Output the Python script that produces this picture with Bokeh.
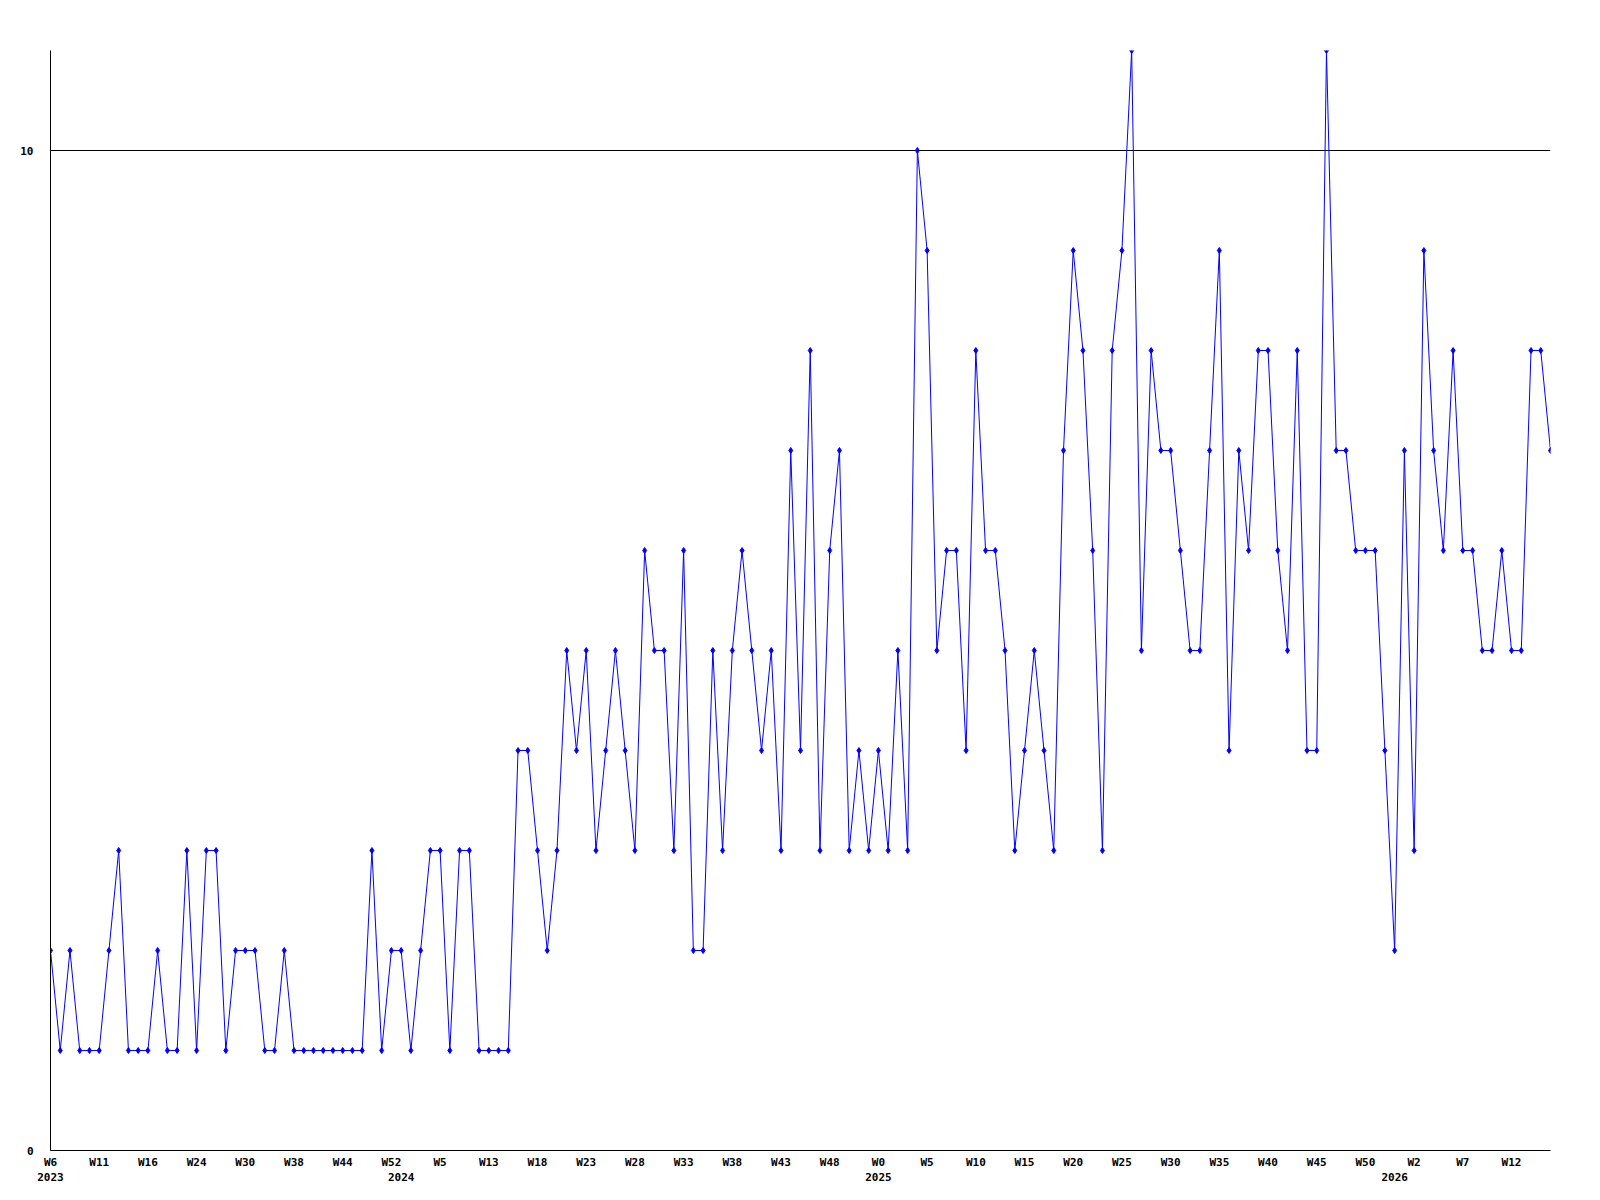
from bokeh.plotting import figure
from bokeh.models import LinearAxis, FixedTicker, Range1d, ColumnDataSource, Grid
from bokeh.embed import file_html
from bokeh.resources import INLINE

values = [
    2, 1, 2, 1, 1, 1, 2, 3, 1, 1, 1, 2, 1, 1, 3, 1, 3, 3, 1, 2, 2, 2, 1, 1,
    2, 1, 1, 1, 1, 1, 1, 1, 1, 3, 1, 2, 2, 1, 2, 3, 3, 1, 3, 3, 1, 1, 1, 1,
    4, 4, 3, 2, 3, 5, 4, 5, 3, 4, 5, 4, 3, 6, 5, 5, 3, 6, 2, 2, 5, 3, 5, 6,
    5, 4, 5, 3, 7, 4, 8, 3, 6, 7, 3, 4, 3, 4, 3, 5, 3,
    10, 9, 5, 6, 6, 4, 8, 6, 6, 5, 3, 4, 5, 4, 3, 7, 9, 8, 6, 3,
    8, 9, 11, 5, 8, 7, 7, 6, 5, 5, 7, 9, 4, 7, 6, 8, 8, 6, 5, 8,
    4, 4, 11, 7, 7, 6, 6, 6, 4, 2, 7, 3, 9, 7, 6, 8, 6, 6, 5, 5,
    6, 5, 5, 8, 8, 7,
]

week_tick_pos = list(range(0, 155, 5))
week_labels = [
    "W6", "W11", "W16", "W24", "W30", "W38", "W44", "W52", "W5", "W13",
    "W18", "W23", "W28", "W33", "W38", "W43", "W48", "W0", "W5", "W10",
    "W15", "W20", "W25", "W30", "W35", "W40", "W45", "W50", "W2", "W7", "W12",
]
year_tick_pos = [0, 36, 85, 138]
year_labels = ["2023", "2024", "2025", "2026"]
y_ticks = [0, 10]
y_grid = [10]

FONT = "DejaVu Sans Mono"

src = ColumnDataSource(dict(x=list(range(len(values))), y=values))

p = figure(
    width=1580, height=1190,
    output_backend="svg", toolbar_location=None,
    x_range=Range1d(0, len(values) - 1), y_range=Range1d(0, 11),
    min_border_left=50, min_border_top=50, min_border_right=30, min_border_bottom=40,
    x_axis_location=None, y_axis_location=None,
)
p.outline_line_color = None
p.background_fill_color = "white"
p.border_fill_color = "white"

p.line("x", "y", source=src, line_color="#0000ff", line_width=1)
p.scatter("x", "y", source=src, marker="diamond", size=6,
          line_color="#0000ff", fill_color="#0000ff", line_width=1)


def style_axis(ax, standoff):
    ax.major_tick_line_color = None
    ax.minor_tick_line_color = None
    ax.major_label_standoff = standoff
    ax.major_label_text_font = FONT
    ax.major_label_text_font_style = "bold"
    ax.major_label_text_font_size = "11px"
    ax.major_label_text_color = "black"


# week axis
xa = LinearAxis(ticker=FixedTicker(ticks=week_tick_pos),
                major_label_overrides={pos: lab for pos, lab in zip(week_tick_pos, week_labels)})
xa.axis_line_color = "black"
xa.axis_line_width = 1
style_axis(xa, -1)
p.add_layout(xa, "below")

# year axis
xa2 = LinearAxis(ticker=FixedTicker(ticks=year_tick_pos),
                 major_label_overrides={pos: lab for pos, lab in zip(year_tick_pos, year_labels)})
xa2.axis_line_color = None
style_axis(xa2, -5)
p.add_layout(xa2, "below")

# y axis
yax = LinearAxis(ticker=FixedTicker(ticks=y_ticks))
yax.axis_line_color = "black"
style_axis(yax, 11)
p.add_layout(yax, "left")

p.xgrid.visible = False
p.ygrid.visible = False
g = Grid(dimension=1, ticker=FixedTicker(ticks=y_grid), grid_line_color="black",
         grid_line_width=1, grid_line_alpha=1.0)
p.add_layout(g, "center")

open("out.html", "w").write(file_html(p, INLINE))
